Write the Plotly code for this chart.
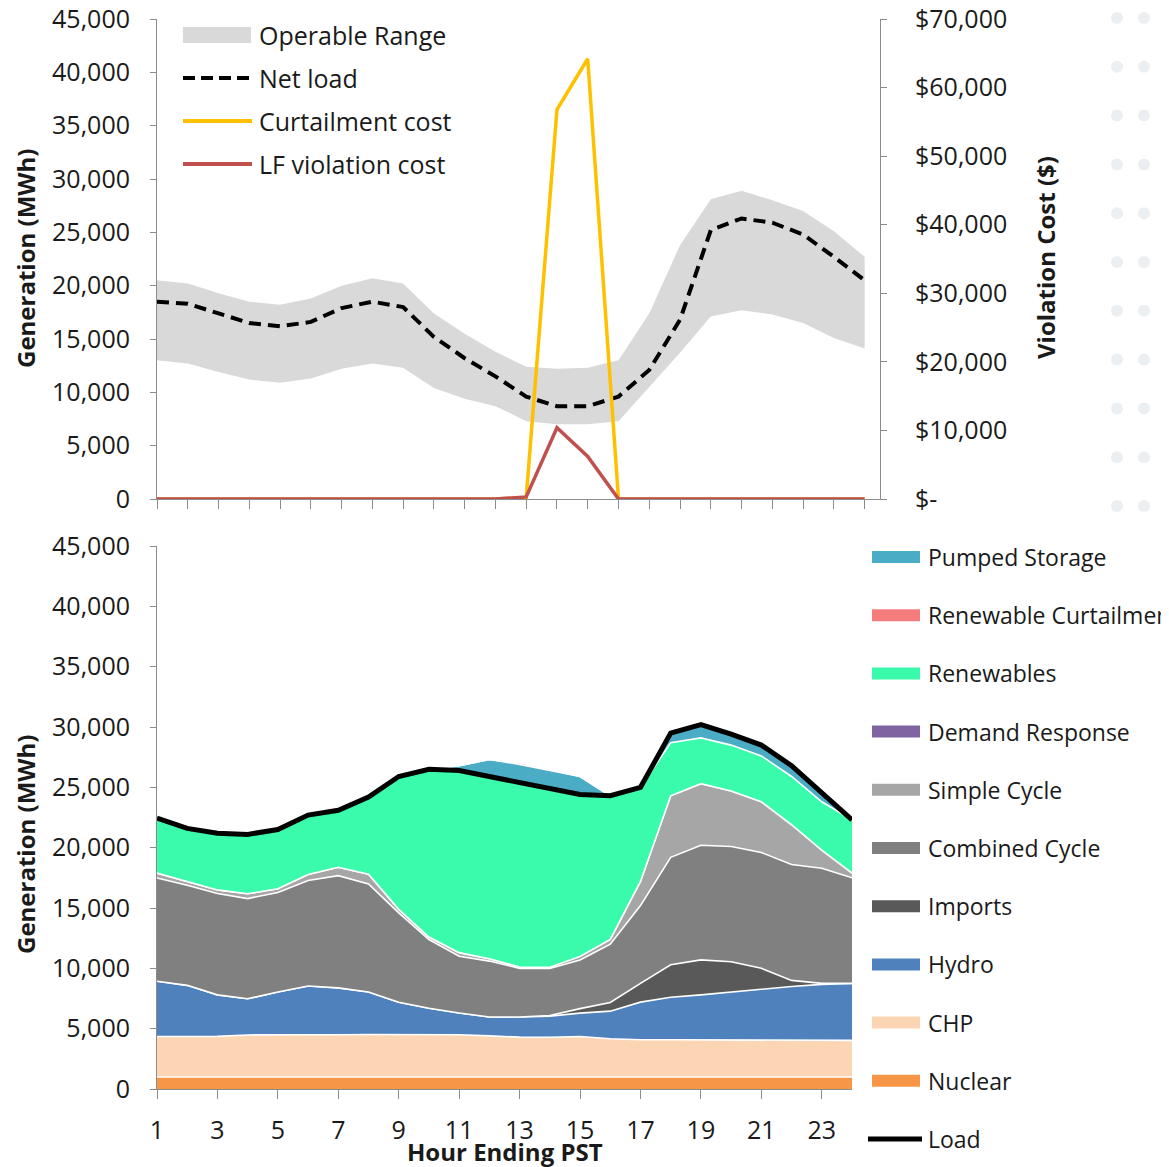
import plotly.graph_objects as go

# ---- data -------------------------------------------------------------
hours = list(range(1, 25))

# top panel (MWh and $)
range_low = [13000, 12700, 11900, 11200, 10900, 11300, 12200, 12700, 12300, 10400, 9400, 8700,
             7300, 7000, 7000, 7300, 10500, 13700, 17100, 17700, 17300, 16500, 15100, 14100]
range_high = [20500, 20200, 19300, 18500, 18200, 18800, 20000, 20700, 20200, 17400, 15500, 13800,
              12400, 12200, 12300, 13000, 17400, 23800, 28100, 28900, 28000, 27000, 25100, 22700]
net_load = [18500, 18300, 17400, 16500, 16200, 16600, 17900, 18500, 18000, 15200, 13200, 11500,
            9600, 8700, 8700, 9600, 12100, 16800, 25200, 26300, 25900, 24800, 22700, 20500]
curtail_cost = [0, 0, 0, 0, 0, 0, 0, 0, 0, 0, 0, 0,
                200, 56800, 64200, 0, 0, 0, 0, 0, 0, 0, 0, 0]
lf_cost = [0, 0, 0, 0, 0, 0, 0, 0, 0, 0, 0, 0,
           300, 10400, 6200, 0, 0, 0, 0, 0, 0, 0, 0, 0]

# bottom panel, generation by resource (MWh), stacked bottom -> top
nuclear = [1000, 1000, 1000, 1000, 1000, 1000, 1000, 1000, 1000, 1000, 1000, 1000,
           1000, 1000, 1000, 1000, 1000, 1000, 1000, 1000, 1000, 1000, 1000, 1000]
chp = [3350, 3350, 3360, 3480, 3470, 3480, 3500, 3520, 3520, 3520, 3500, 3400,
       3300, 3290, 3350, 3170, 3080, 3080, 3080, 3080, 3080, 3080, 3080, 3030]
hydro = [4580, 4240, 3440, 3000, 3570, 4050, 3880, 3520, 2670, 2170, 1800, 1570,
         1670, 1750, 1940, 2280, 3120, 3520, 3720, 3970, 4170, 4420, 4590, 4720]
imports = [0, 0, 0, 0, 0, 0, 0, 0, 0, 0, 0, 0,
           0, 50, 370, 720, 1550, 2700, 2900, 2500, 1750, 500, 80, 0]
combined_cycle = [8560, 8300, 8400, 8300, 8250, 8750, 9300, 8950, 7400, 5700, 4700, 4630,
                  4030, 3900, 4030, 4830, 6450, 8900, 9500, 9550, 9600, 9600, 9550, 8750]
simple_cycle = [400, 300, 300, 400, 300, 500, 700, 800, 300, 200, 300, 200,
                100, 100, 300, 400, 2000, 5100, 5100, 4600, 4200, 3300, 1500, 400]
demand_response = [0, 0, 0, 0, 0, 0, 0, 0, 0, 0, 0, 0,
                   0, 0, 0, 0, 0, 0, 0, 0, 0, 0, 0, 0]
renewables = [4550, 4400, 4700, 4900, 4900, 4900, 4700, 6400, 11000, 13900, 15100, 15100,
              15300, 14700, 13400, 11900, 7800, 4400, 3800, 3800, 3800, 4000, 4000, 4400]
pumped_storage = [0, 0, 0, 0, 0, 0, 0, 0, 0, 0, 400, 1400,
                  1500, 1600, 1500, 0, 0, 800, 1100, 900, 900, 900, 700, 0]
renew_curtail = [0, 0, 0, 0, 0, 0, 0, 0, 0, 0, 0, 0,
                 150, 100, 0, 0, 0, 0, 0, 0, 0, 0, 0, 0]
load = [22450, 21600, 21200, 21100, 21500, 22700, 23100, 24200, 25900, 26500, 26400, 25900,
        25400, 24800, 24400, 24300, 25000, 29500, 30200, 29400, 28500, 26800, 24500, 22300]

stack = [
    ("Nuclear", nuclear, "#F79646"),
    ("CHP", chp, "#FCD5B5"),
    ("Hydro", hydro, "#4F81BD"),
    ("Imports", imports, "#595959"),
    ("Combined Cycle", combined_cycle, "#808080"),
    ("Simple Cycle", simple_cycle, "#A6A6A6"),
    ("Demand Response", demand_response, "#8064A2"),
    ("Renewables", renewables, "#3AFAAC"),
    ("Pumped Storage", pumped_storage, "#4BACC6"),
    ("Renewable Curtailment", renew_curtail, "#F47C7C"),
]
legend_order = ["Pumped Storage", "Renewable Curtailment", "Renewables", "Demand Response",
                "Simple Cycle", "Combined Cycle", "Imports", "Hydro", "CHP", "Nuclear"]

FONT = "Open Sans"
TXT = "#1a1a1a"
AX = "#8c8c8c"
SW, SH = 1169, 1167            # window size
OFF = 8                        # default page body margin
W, H = SW - OFF, SH - OFF      # figure size
L, R, T, B = 157, 880, 19, 1089   # plot area in window pixels


def px(x):
    return (x - L) / (R - L)


def py(y):
    return (B - y) / (B - T)


fig = go.Figure()

# ---- top panel ----
fig.add_trace(go.Scatter(x=hours, y=range_low, mode="lines", line=dict(width=0),
                         showlegend=False, hoverinfo="skip", xaxis="x", yaxis="y"))
fig.add_trace(go.Scatter(x=hours, y=range_high, mode="lines", line=dict(width=0),
                         fill="tonexty", fillcolor="#D9D9D9", name="Operable Range",
                         showlegend=False, xaxis="x", yaxis="y"))
fig.add_trace(go.Scatter(x=hours, y=net_load, mode="lines", name="Net load", showlegend=False,
                         line=dict(color="black", width=4, dash="12px,7px"), xaxis="x", yaxis="y"))
fig.add_trace(go.Scatter(x=hours, y=curtail_cost, mode="lines", name="Curtailment cost",
                         showlegend=False, line=dict(color="#FFC000", width=3.5),
                         xaxis="x", yaxis="y2"))
fig.add_trace(go.Scatter(x=hours, y=lf_cost, mode="lines", name="LF violation cost",
                         showlegend=False, line=dict(color="#C0504D", width=3.5),
                         xaxis="x", yaxis="y2"))

# ---- bottom panel ----
for name, vals, col in stack:
    fig.add_trace(go.Scatter(x=hours, y=vals, mode="lines", name=name, stackgroup="gen",
                             fillcolor=col, line=dict(color="white", width=1.6),
                             showlegend=False, xaxis="x2", yaxis="y3"))
fig.add_trace(go.Scatter(x=hours, y=load, mode="lines", name="Load", showlegend=False,
                         line=dict(color="black", width=5), xaxis="x2", yaxis="y3"))

axis_common = dict(showgrid=False, zeroline=False, showline=True, linecolor=AX, linewidth=1,
                   ticks="outside", tickcolor=AX, ticklabeloverflow="allow",
                   tickfont=dict(family=FONT, size=25, color=TXT))

fig.update_layout(
    width=W, height=H,
    margin=dict(l=L - OFF, r=SW - R, t=T - OFF, b=SH - B, autoexpand=False),
    paper_bgcolor="white", plot_bgcolor="white",
    font=dict(family=FONT, color=TXT),
    showlegend=False,
    xaxis=dict(axis_common, domain=[0, 1], range=[1, 24.5], tickvals=hours,
               showticklabels=False, ticklen=9, anchor="y"),
    yaxis=dict(axis_common, domain=[py(499), 1], range=[0, 45000], tickvals=list(range(0, 45001, 5000)),
               tickformat=",d", ticklen=6, ticklabelstandoff=15, anchor="x"),
    yaxis2=dict(axis_common, overlaying="y", side="right", range=[0, 70000],
                tickvals=list(range(0, 70001, 10000)),
                ticktext=["$-", "$10,000", "$20,000", "$30,000", "$40,000", "$50,000", "$60,000", "$70,000"],
                ticklen=6, ticklabelstandoff=23, anchor="x"),
    xaxis2=dict(axis_common, domain=[0, px(852)], range=[1, 24], tickvals=list(range(1, 24, 2)),
                ticklen=9, ticklabelstandoff=10, anchor="y3"),
    yaxis3=dict(axis_common, domain=[0, py(546)], range=[0, 45000], tickvals=list(range(0, 45001, 5000)),
                tickformat=",d", ticklen=6, ticklabelstandoff=15, anchor="x2"),
)

shapes = []
ann = []

# faint dotted backdrop on the right of the top panel
for cx in (1117, 1144, 1169):
    for k in range(11):
        cy = 18 + 48.8 * k
        shapes.append(dict(type="circle", xref="paper", yref="paper", layer="below",
                           x0=px(cx - 6), x1=px(cx + 6), y0=py(cy + 6), y1=py(cy - 6),
                           fillcolor="#ECEFF1", line=dict(width=0)))

# axis titles
title_font = dict(family=FONT, size=24, color=TXT)
for x, y, txt, ang in [(25, 259, "<b>Generation (MWh)</b>", -90),
                       (25, 845, "<b>Generation (MWh)</b>", -90),
                       (1045, 258, "<b>Violation Cost ($)</b>", -90),
                       (505, 1151, "<b>Hour Ending PST</b>", 0)]:
    ann.append(dict(x=px(x), y=py(y), text=txt, textangle=ang, showarrow=False,
                    xanchor="center", yanchor="middle", xref="paper", yref="paper", font=title_font))

# top legend
top_items = [("Operable Range", "rect", "#D9D9D9", None),
             ("Net load", "line", "black", "12px,6px"),
             ("Curtailment cost", "line", "#FFC000", None),
             ("LF violation cost", "line", "#C0504D", None)]
for i, (name, kind, col, dash) in enumerate(top_items):
    yc = 35 + 43 * i
    if kind == "rect":
        shapes.append(dict(type="rect", xref="paper", yref="paper", x0=px(183), x1=px(251),
                           y0=py(yc + 8), y1=py(yc - 8), fillcolor=col, line=dict(width=0)))
    else:
        shapes.append(dict(type="line", xref="paper", yref="paper", x0=px(183), x1=px(252),
                           y0=py(yc), y1=py(yc), line=dict(color=col, width=4, dash=dash)))
    ann.append(dict(x=px(257), y=py(yc), text=name, showarrow=False, xanchor="left", yanchor="middle",
                    xref="paper", yref="paper", font=dict(family=FONT, size=25, color=TXT)))

# bottom legend
colors = {n: c for n, _, c in stack}
for i, name in enumerate(legend_order + ["Load"]):
    yc = 557 + 58.2 * i
    if name == "Load":
        shapes.append(dict(type="line", xref="paper", yref="paper", x0=px(868), x1=px(922),
                           y0=py(yc), y1=py(yc), line=dict(color="black", width=5)))
    else:
        shapes.append(dict(type="rect", xref="paper", yref="paper", x0=px(872), x1=px(920),
                           y0=py(yc + 6), y1=py(yc - 6), fillcolor=colors[name], line=dict(width=0)))
    ann.append(dict(x=px(926), y=py(yc), text=name, showarrow=False, xanchor="left", yanchor="middle",
                    xref="paper", yref="paper", font=dict(family=FONT, size=23, color=TXT)))

fig.update_layout(shapes=shapes, annotations=ann)

fig.write_html("out.html")
